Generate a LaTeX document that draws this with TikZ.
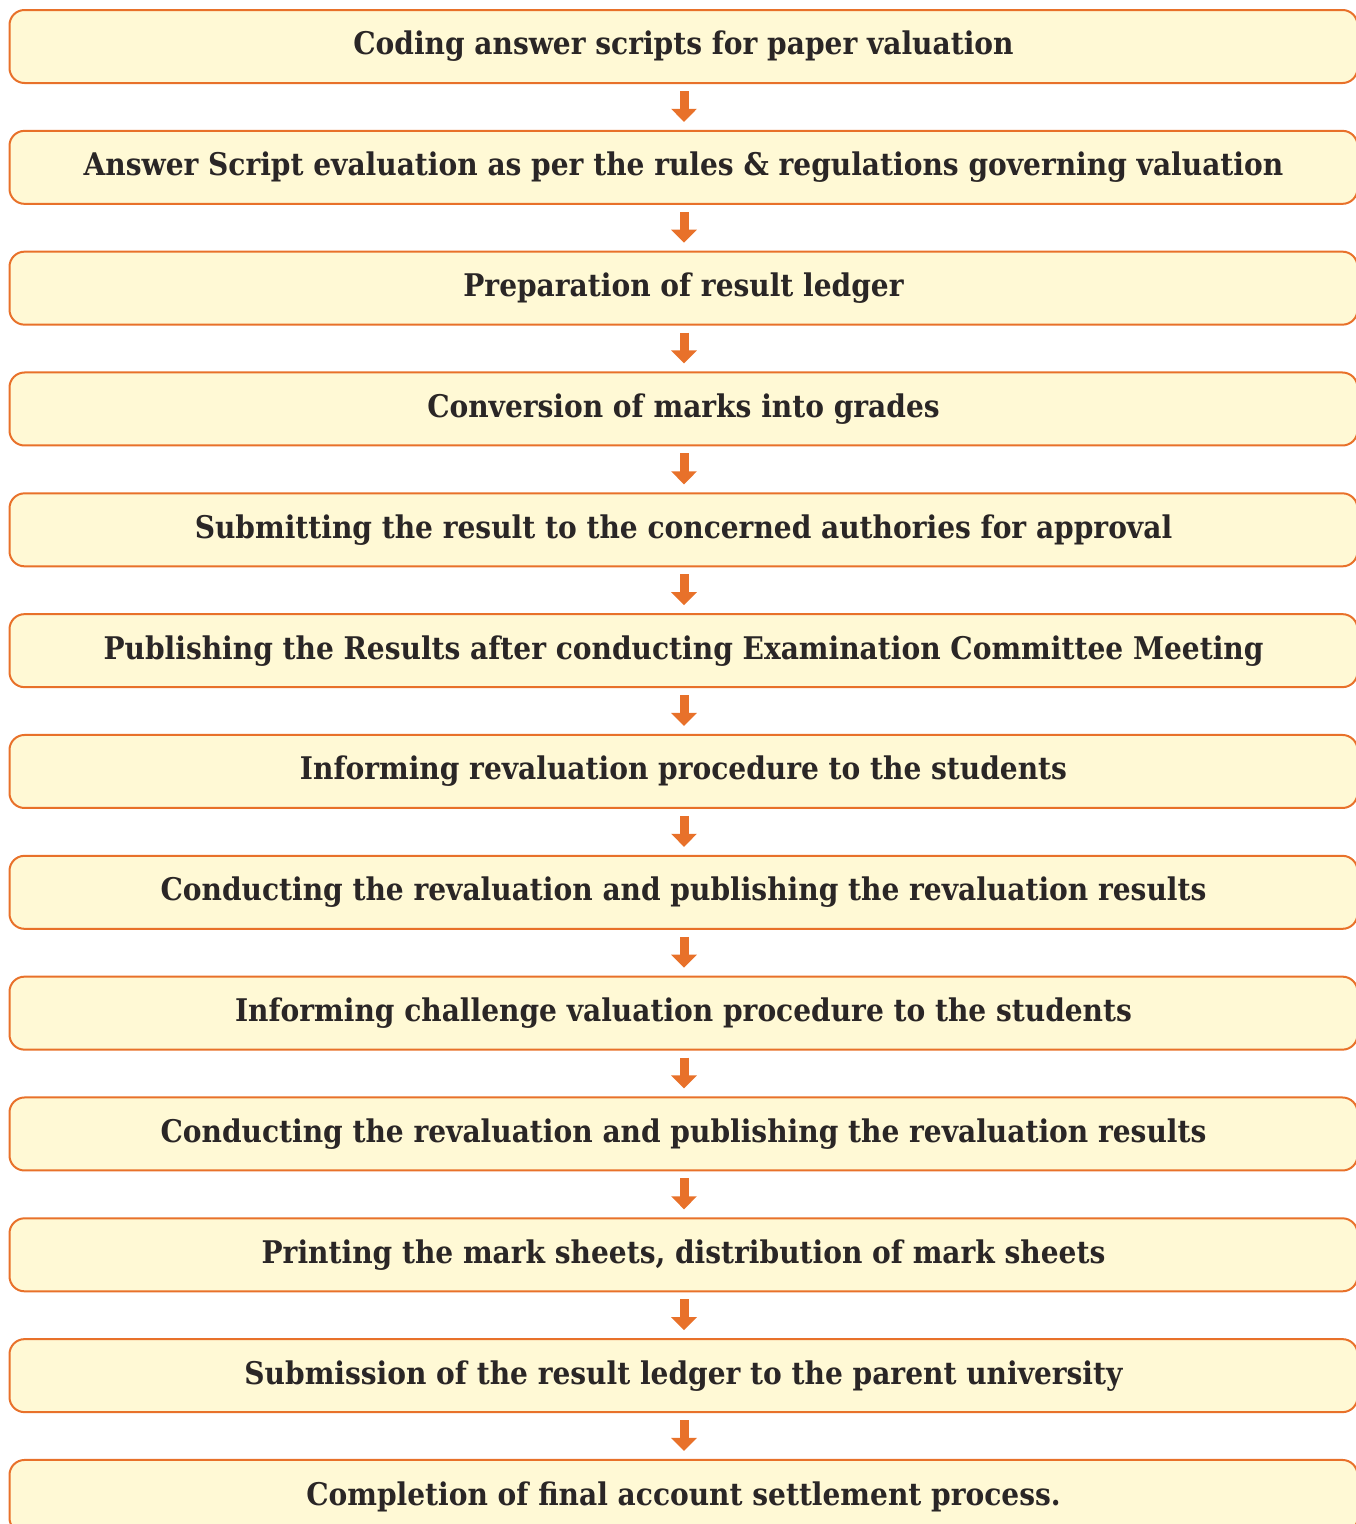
\documentclass[tikz,border=0pt]{standalone}
\usepackage{fontspec}
\setmainfont{DejaVu Serif Condensed}
\usetikzlibrary{arrows.meta}
\definecolor{boxfill}{HTML}{FFF9D5}
\definecolor{boxline}{HTML}{E8712A}
\definecolor{ink}{HTML}{2A2626}
\tikzset{
  stepbox/.style={draw=boxline, fill=boxfill, line width=2pt, rounded corners=15pt,
    minimum width=1348pt, minimum height=73pt, anchor=north west, inner sep=0pt,
    text=ink, font=\fontsize{31.2}{36}\selectfont\bfseries},
  flow/.style={draw=boxline, line width=9pt,
    -{Triangle[width=25pt,length=13pt]}}
}
\begin{document}
\begin{tikzpicture}[x=1pt,y=-1pt]
\useasboundingbox (0,0) rectangle (1356,1524);
% thirteen process steps, top to bottom
\foreach \t [count=\i from 0] in {
  Coding answer scripts for paper valuation,
  Answer Script evaluation as per the rules \& regulations governing valuation,
  Preparation of result ledger,
  Conversion of marks into grades,
  Submitting the result to the concerned authories for approval,
  Publishing the Results after conducting Examination Committee Meeting,
  Informing revaluation procedure to the students,
  Conducting the revaluation and publishing the revaluation results,
  Informing challenge valuation procedure to the students,
  Conducting the revaluation and publishing the revaluation results,
  {Printing the mark sheets, distribution of mark sheets},
  Submission of the result ledger to the parent university,
  Completion of final account settlement process.}
{
  \node[stepbox] (b\i) at (8.5,{9+120.83*\i}) {\t};
}
% short arrows joining consecutive steps
\foreach \i [evaluate=\i as \j using int(\i+1)] in {0,...,11}
  \draw[flow] (b\i.south -| 684,0) ++(0,7) -- ([yshift=8pt]b\j.north -| 684,0);
\end{tikzpicture}
\end{document}
